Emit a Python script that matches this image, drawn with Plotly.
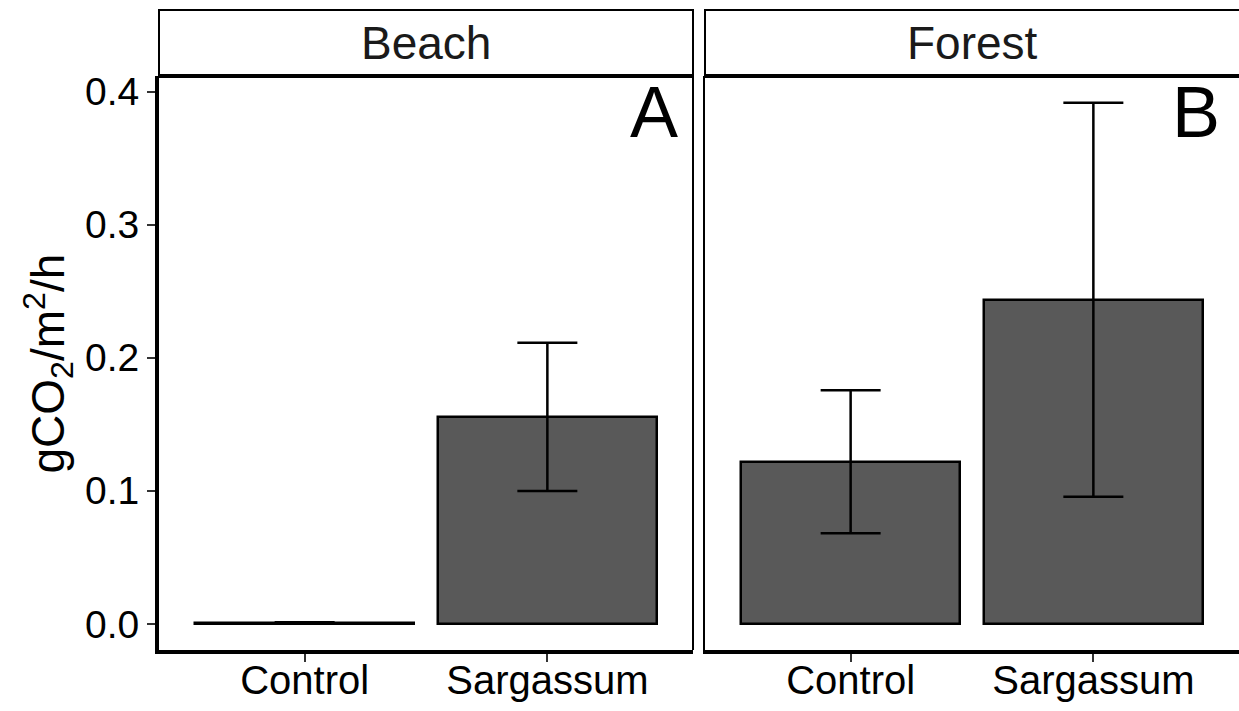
import plotly.graph_objects as go

# Soil CO2 flux by treatment, faceted by site
treatments = ["Control", "Sargassum"]
sites = ["Beach", "Forest"]
panel_tags = ["A", "B"]

beach_mean = [0.0008, 0.1556]
beach_se = [0.0004, 0.0557]
forest_mean = [0.1218, 0.2436]
forest_se = [0.0537, 0.1480]

y_ticks = [0.0, 0.1, 0.2, 0.3, 0.4]
y_tick_labels = ["0.0", "0.1", "0.2", "0.3", "0.4"]

FONT = "Liberation Sans, Arial, sans-serif"
BAR_FILL = "#595959"

W, H = 1239, 711
ML, MR, MT, MB = 159, 0, 76, 61
PW = W - ML - MR
PH = H - MT - MB

fig = go.Figure()

for means, ses, xa, ya in [(beach_mean, beach_se, "x", "y"),
                           (forest_mean, forest_se, "x2", "y2")]:
    fig.add_trace(go.Bar(
        x=treatments, y=means, width=0.9,
        marker=dict(color=BAR_FILL, line=dict(color="black", width=2.5)),
        error_y=dict(type="data", array=ses, visible=True,
                     color="black", thickness=2.5, width=30),
        xaxis=xa, yaxis=ya, showlegend=False,
    ))

y_top = 0.4117
y_bot = -0.0196

common_x = dict(
    type="category", categoryorder="array", categoryarray=treatments,
    range=[-0.6, 1.6], showline=True, linewidth=4, linecolor="black",
    ticks="outside", ticklen=8, tickwidth=2, tickcolor="#333333",
    tickfont=dict(family=FONT, size=40, color="black"),
    ticklabelstandoff=-16,
    showgrid=False, zeroline=False, fixedrange=True,
)

fig.update_layout(
    width=W, height=H,
    margin=dict(l=ML, r=MR, t=MT, b=MB, pad=0),
    paper_bgcolor="white", plot_bgcolor="white",
    bargap=0,
    xaxis=dict(domain=[0, 534 / PW], anchor="y", **common_x),
    xaxis2=dict(domain=[546 / PW, 1], anchor="y2", **common_x),
    yaxis=dict(
        anchor="x", range=[y_bot, y_top],
        tickmode="array", tickvals=y_ticks, ticktext=y_tick_labels,
        showline=True, linewidth=4, linecolor="black",
        ticks="outside", ticklen=8, tickwidth=2, tickcolor="#333333",
        tickfont=dict(family=FONT, size=39, color="black"),
        showgrid=False, zeroline=False, fixedrange=True,
    ),
    yaxis2=dict(
        anchor="x2", matches="y", range=[y_bot, y_top],
        showticklabels=False, ticks="",
        showline=True, linewidth=2, linecolor="black",
        showgrid=False, zeroline=False, fixedrange=True,
    ),
)

strip_top = 1 + 66 / PH
shapes = []
annotations = []
for i, (site, tag) in enumerate(zip(sites, panel_tags)):
    xd = "x domain" if i == 0 else "x2 domain"
    x_end = 1 if i == 0 else 1.02
    # strip box
    shapes.append(dict(type="rect", xref=xd, yref="paper",
                       x0=0, x1=x_end, y0=1, y1=strip_top,
                       line=dict(color="black", width=2), fillcolor="white",
                       layer="below"))
    # heavy rule between strip and panel
    shapes.append(dict(type="line", xref=xd, yref="paper",
                       x0=0, x1=x_end, y0=1, y1=1,
                       line=dict(color="black", width=4)))
    annotations.append(dict(
        text=site, xref=xd, yref="paper", x=0.5, y=(1 + strip_top) / 2,
        xanchor="center", yanchor="middle", showarrow=False,
        font=dict(family=FONT, size=46, color="#1a1a1a"),
    ))
    annotations.append(dict(
        text=tag, xref=xd, yref="paper", x=1, y=1 + 6 / PH,
        xanchor="right", yanchor="top", showarrow=False,
        xshift=-13 if i == 0 else -17,
        font=dict(family=FONT, size=72, color="black"),
    ))

# right border of the first panel
shapes.append(dict(type="line", xref="x domain", yref="y domain",
                   x0=1, x1=1, y0=0, y1=1,
                   line=dict(color="black", width=2)))

annotations.append(dict(
    text="gCO<sub>2</sub>/m<sup>2</sup>/h", textangle=-90,
    xref="paper", yref="paper", x=(48 - ML) / PW, y=1 - (363.5 - MT) / PH,
    xanchor="center", yanchor="middle", showarrow=False,
    font=dict(family=FONT, size=46, color="black"),
))

fig.update_layout(shapes=shapes, annotations=annotations)

fig.write_html("out.html")
